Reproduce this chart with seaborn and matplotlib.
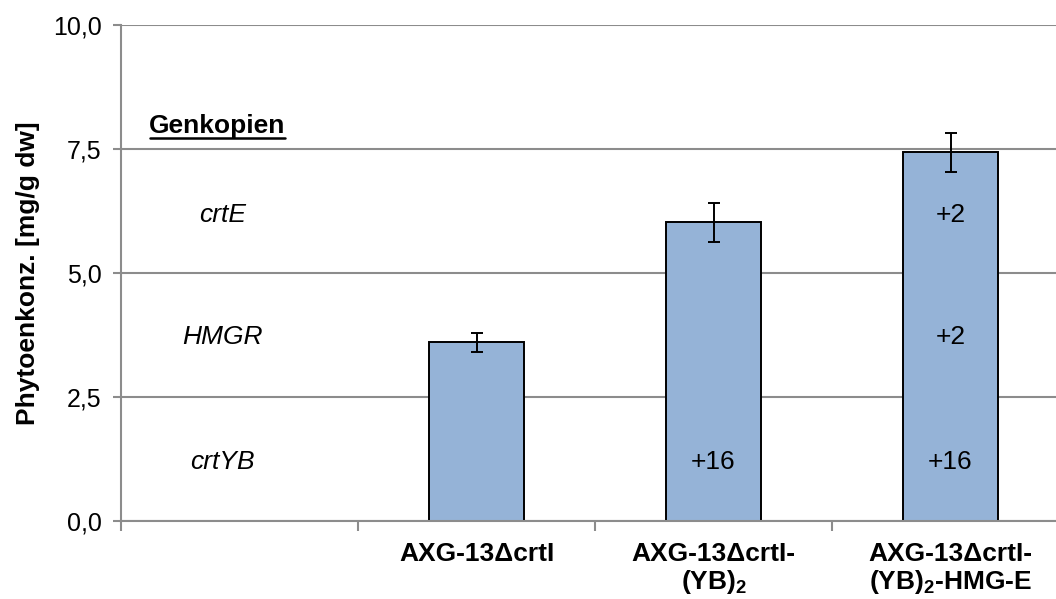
import matplotlib
matplotlib.use("Agg")
import matplotlib.pyplot as plt
from matplotlib.lines import Line2D
from matplotlib.ticker import FixedLocator, FuncFormatter
import seaborn as sns
import pandas as pd

# Strains and measured phytoene content (mean and error)
strains = ["AXG-13ΔcrtI", "AXG-13ΔcrtI-\n(YB)$_\\mathbf{2}$", "AXG-13ΔcrtI-\n(YB)$_\\mathbf{2}$-HMG-E"]
phytoene = [3.6, 6.02, 7.43]
phytoene_err = [0.2, 0.39, 0.39]

# Gene copy table: row labels, row baselines (in y units) and extra copies per strain
gene_rows = ["crtE", "HMGR", "crtYB"]
gene_row_y = [6.03, 3.57, 1.05]
gene_copies = {
    "crtE": ["", "", "+2"],
    "HMGR": ["", "", "+2"],
    "crtYB": ["", "+16", "+16"],
}
table_title = "Genkopien"
table_title_y = 7.82

yticks = [0.0, 2.5, 5.0, 7.5, 10.0]
ylabel = "Phytoenkonz. [mg/g dw]"

sns.set_theme(style="white")
plt.rcParams["font.family"] = ["Liberation Sans", "DejaVu Sans"]
plt.rcParams["mathtext.fontset"] = "custom"
plt.rcParams["mathtext.rm"] = "Liberation Sans"
plt.rcParams["mathtext.bf"] = "Liberation Sans:bold"
plt.rcParams["mathtext.it"] = "Liberation Sans:italic"
for key in ["text.color", "axes.labelcolor", "xtick.labelcolor", "ytick.labelcolor"]:
    plt.rcParams[key] = "black"

FS = 18
FS_BOLD = 19
FS_TABLE = 19
GRID = "#8c8c8c"

fig = plt.figure(figsize=(10.56, 5.99), dpi=100)
ax = fig.add_axes([121 / 1056, 78 / 599, 948 / 1056, 496 / 599])

order = [""] + strains
df = pd.DataFrame({"strain": strains, "value": phytoene})
sns.barplot(data=df, x="strain", y="value", order=order, color="#95B3D7",
            saturation=1, width=0.405, edgecolor="black", linewidth=1.4,
            errorbar=None, ax=ax, zorder=3)

positions = [order.index(s) for s in strains]
ax.errorbar(positions, phytoene, yerr=phytoene_err, fmt="none", ecolor="black",
            elinewidth=1.4, capsize=4.5, capthick=1.4, zorder=4)

ax.set_xlim(-0.5, len(order) - 0.5)
ax.set_ylim(0, 10)

# y axis
ax.yaxis.set_major_locator(FixedLocator(yticks))
ax.yaxis.set_major_formatter(FuncFormatter(lambda v, p: f"{v:.1f}".replace(".", ",")))
ax.yaxis.grid(True, color=GRID, linewidth=1.5, zorder=0)
ax.set_axisbelow(True)
ax.tick_params(axis="y", which="major", direction="out", length=6, width=1.5,
               color=GRID, labelsize=FS, pad=8, left=True)
ax.set_ylabel(ylabel, fontsize=FS_BOLD, fontweight="bold", labelpad=9)

# x axis: labels at category centres, tick marks on category boundaries
ax.set_xticks(range(len(order)))
ax.set_xticklabels([""] + strains, fontsize=FS_BOLD, fontweight="bold", linespacing=1.1)
ax.tick_params(axis="x", which="major", length=0, pad=15)
ax.set_xticks([i - 0.5 for i in range(len(order) + 1)], minor=True)
ax.tick_params(axis="x", which="minor", direction="out", length=7, width=1.5,
               color=GRID, bottom=True)
ax.set_xlabel("")

for side in ["top", "right"]:
    ax.spines[side].set_visible(False)
for side in ["left", "bottom"]:
    ax.spines[side].set_color(GRID)
    ax.spines[side].set_linewidth(1.5)
ax.spines["bottom"].set_zorder(5)

# gene copy table
title = ax.text(-0.093, table_title_y, table_title, fontsize=FS_TABLE, fontweight="bold",
                ha="center", va="baseline")
for row, y in zip(gene_rows, gene_row_y):
    ax.text(-0.07, y, row, fontsize=FS_TABLE, style="italic", ha="center", va="baseline")
    for pos, label in zip(positions, gene_copies[row]):
        if label:
            ax.text(pos, y, label, fontsize=FS_TABLE, ha="center", va="baseline", zorder=6)

# underline the table title
fig.canvas.draw()
bb = title.get_window_extent().transformed(fig.transFigure.inverted())
under_y = bb.y0 + 0.001
fig.add_artist(Line2D([bb.x0 + 0.001, bb.x1 - 0.001], [under_y, under_y],
                      color="black", linewidth=1.8))

fig.savefig("out.png", dpi=100)
